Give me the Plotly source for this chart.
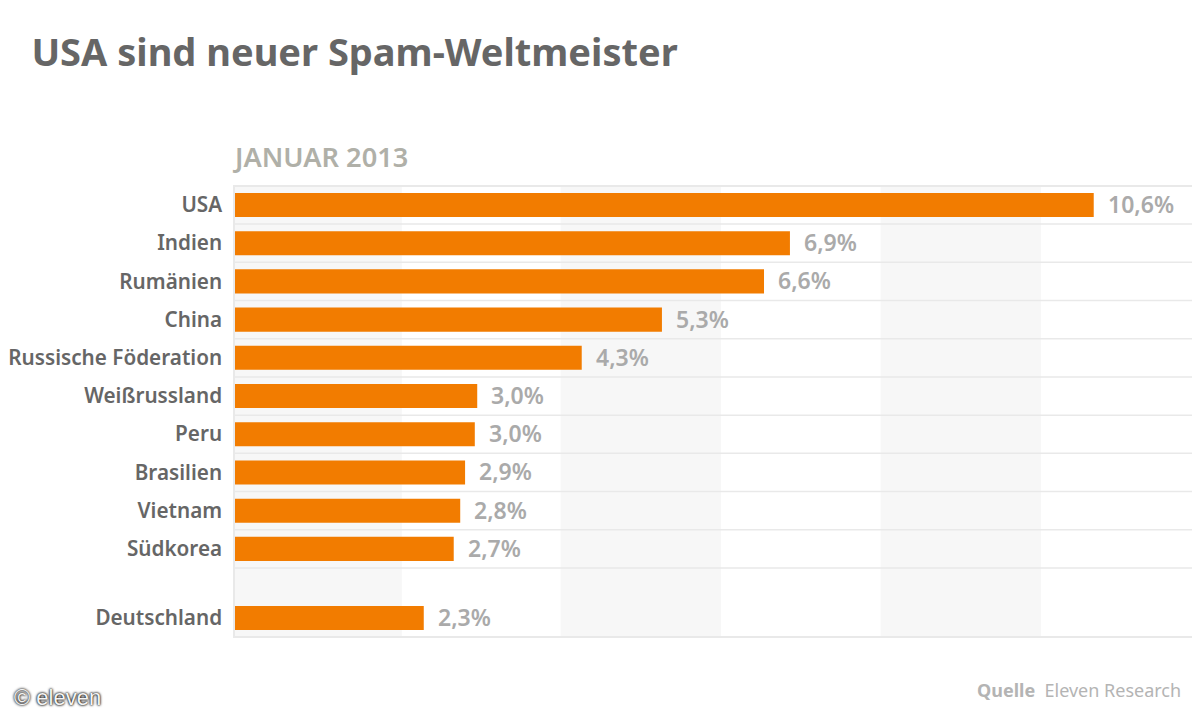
import plotly.graph_objects as go

laender = ["USA", "Indien", "Rumänien", "China", "Russische Föderation", "Weißrussland",
           "Peru", "Brasilien", "Vietnam", "Südkorea", "Deutschland"]
anteil = [10.6, 6.85, 6.53, 5.27, 4.28, 2.99, 2.96, 2.84, 2.78, 2.70, 2.33]
labels = ["10,6%", "6,9%", "6,6%", "5,3%", "4,3%", "3,0%", "3,0%", "2,9%", "2,8%", "2,7%", "2,3%"]
zeilen = [0, 1, 2, 3, 4, 5, 6, 7, 8, 9, 10.81]
trennlinien = [0.5, 1.5, 2.5, 3.5, 4.5, 5.5, 6.5, 7.5, 8.5, 9.5]
baender = [(0, 2.06), (4.02, 6.0), (7.97, 9.95)]

FONT = "Noto Sans"
ORANGE = "#f27c00"
DUNKEL = "#666666"
HELL = "#aaaaaa"

fig = go.Figure()

fig.add_trace(go.Bar(
    x=anteil, y=zeilen, orientation="h",
    width=0.63,
    marker=dict(color=ORANGE, line=dict(width=0)),
    hoverinfo="skip",
))

# graue Baender im Hintergrund
for von, bis in baender:
    fig.add_shape(type="rect", xref="x", yref="paper", x0=von, x1=bis, y0=0, y1=1,
                  fillcolor="#f7f7f7", line_width=0, layer="below")

for z in trennlinien:
    fig.add_shape(type="line", xref="paper", yref="y", x0=0, x1=1, y0=z, y1=z,
                  line=dict(color="#e9e9e9", width=1.5), layer="below")

for wert, zeile, label in zip(anteil, zeilen, labels):
    fig.add_annotation(x=wert, y=zeile, text=label, showarrow=False, xanchor="left",
                       xshift=12, yshift=1, font=dict(family=FONT, size=23, color=HELL, weight=600))

fig.add_annotation(xref="paper", yref="paper", x=0, y=1.0, yshift=31, xshift=-5, xanchor="left", yanchor="middle",
                   text="JANUAR 2013", showarrow=False,
                   font=dict(family=FONT, size=27.2, color="#b0b0a8", weight=600))
fig.add_annotation(xref="paper", yref="paper", x=0.988, y=0, yshift=-54, xanchor="right", yanchor="middle",
                   text="<b>Quelle</b>  Eleven Research", showarrow=False,
                   font=dict(family=FONT, size=18, color="#b4b4b4"))
fig.add_annotation(xref="paper", yref="paper", x=-0.232, y=0, yshift=-61, xanchor="left", yanchor="middle",
                   text="© eleven", showarrow=False,
                   font=dict(family="Liberation Sans", size=22, color="#f4f4f4",
                             shadow="0px 0px 2px #000000, 0px 0px 3px #000000"))

# die Seite hat 8px Rand, deshalb links/oben kleiner und rechts/unten groesser
fig.update_layout(
    width=1200, height=720,
    margin=dict(l=227, r=13, t=179, b=92),
    paper_bgcolor="white", plot_bgcolor="white",
    showlegend=False,
    title=dict(text="<b>USA sind neuer Spam-Weltmeister</b>", x=0.0195, xref="container", xanchor="left",
               y=0.938, yanchor="middle",
               font=dict(family=FONT, size=38, color=DUNKEL)),
    xaxis=dict(range=[0, 11.85], showgrid=False, zeroline=False, showticklabels=False, ticks="",
               showline=True, mirror=True, linecolor="#e9e9e9", linewidth=1.5),
    yaxis=dict(range=[11.28, -0.47], tickmode="array", tickvals=zeilen, ticktext=laender,
               automargin=False,
               showgrid=False, zeroline=False, ticks="", ticklabelstandoff=7,
               tickfont=dict(family=FONT, size=20.7, color=DUNKEL, weight=600),
               showline=True, mirror=True, linecolor="#e9e9e9", linewidth=1.5),
)

fig.write_html("out.html")
